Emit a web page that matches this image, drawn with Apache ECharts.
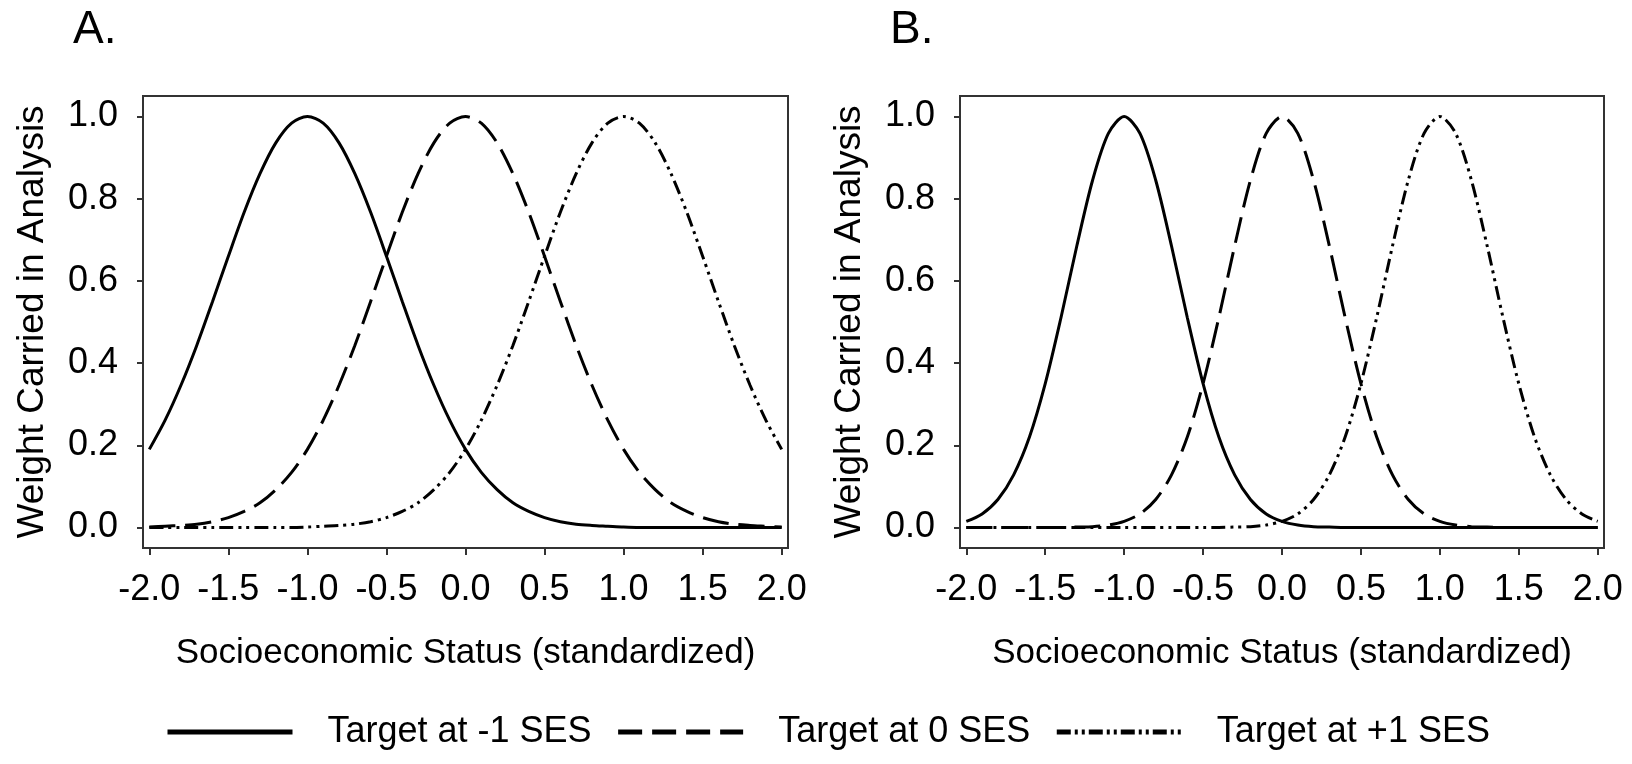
<!DOCTYPE html>
<html>
<head>
<meta charset="utf-8">
<title>Weight carried in analysis</title>
<script src="https://cdn.jsdelivr.net/npm/echarts@6/dist/echarts.min.js"></script>
<style>
    html, body { margin: 0; padding: 0; background: #fff; }
    #chart { width: 1632px; height: 764px; }
</style>
</head>
<body>
<div id="chart"></div>
<script>
    // socioeconomic status (x), read every 0.1
    var ses = [-2.0, -1.9, -1.8, -1.7, -1.6, -1.5, -1.4, -1.3, -1.2, -1.1,
        -1.0, -0.9, -0.8, -0.7, -0.6, -0.5, -0.4, -0.3, -0.2, -0.1,
        0.0, 0.1, 0.2, 0.3, 0.4, 0.5, 0.6, 0.7, 0.8, 0.9,
        1.0, 1.1, 1.2, 1.3, 1.4, 1.5, 1.6, 1.7, 1.8, 1.9, 2.0];

    var sesTicks = [-2.0, -1.5, -1.0, -0.5, 0.0, 0.5, 1.0, 1.5, 2.0];
    var weightTicks = [0.0, 0.2, 0.4, 0.6, 0.8, 1.0];

    var seriesNames = ['Target at -1 SES', 'Target at 0 SES', 'Target at +1 SES'];

    // panel A (wide bandwidth)
    var weightA_minus1 = [0.190, 0.261, 0.346, 0.443, 0.550, 0.660, 0.767, 0.861, 0.936, 0.984,
        1.000, 0.984, 0.936, 0.861, 0.767, 0.660, 0.550, 0.443, 0.346, 0.261,
        0.190, 0.134, 0.092, 0.060, 0.039, 0.024, 0.014, 0.008, 0.005, 0.003,
        0.001, 0, 0, 0, 0, 0, 0, 0, 0, 0, 0];
    var weightA_zero = [0.001, 0.003, 0.005, 0.008, 0.014, 0.024, 0.039, 0.060, 0.092, 0.134,
        0.190, 0.261, 0.346, 0.443, 0.550, 0.660, 0.767, 0.861, 0.936, 0.984,
        1.000, 0.984, 0.936, 0.861, 0.767, 0.660, 0.550, 0.443, 0.346, 0.261,
        0.190, 0.134, 0.092, 0.060, 0.039, 0.024, 0.014, 0.008, 0.005, 0.003, 0.001];
    var weightA_plus1 = [0, 0, 0, 0, 0, 0, 0, 0, 0, 0,
        0.001, 0.003, 0.005, 0.008, 0.014, 0.024, 0.039, 0.060, 0.092, 0.134,
        0.190, 0.261, 0.346, 0.443, 0.550, 0.660, 0.767, 0.861, 0.936, 0.984,
        1.000, 0.984, 0.936, 0.861, 0.767, 0.660, 0.550, 0.443, 0.346, 0.261, 0.190];

    // panel B (narrow bandwidth)
    var weightB_minus1 = [0.015, 0.033, 0.068, 0.128, 0.220, 0.350, 0.511, 0.685, 0.845, 0.959,
        1.000, 0.959, 0.845, 0.685, 0.511, 0.350, 0.220, 0.128, 0.068, 0.033,
        0.015, 0.006, 0.002, 0.001, 0, 0, 0, 0, 0, 0,
        0, 0, 0, 0, 0, 0, 0, 0, 0, 0, 0];
    var weightB_zero = [0, 0, 0, 0, 0, 0, 0, 0.001, 0.002, 0.006,
        0.015, 0.033, 0.068, 0.128, 0.220, 0.350, 0.511, 0.685, 0.845, 0.959,
        1.000, 0.959, 0.845, 0.685, 0.511, 0.350, 0.220, 0.128, 0.068, 0.033,
        0.015, 0.006, 0.002, 0.001, 0, 0, 0, 0, 0, 0, 0];
    var weightB_plus1 = [0, 0, 0, 0, 0, 0, 0, 0, 0, 0,
        0, 0, 0, 0, 0, 0, 0, 0.001, 0.002, 0.006,
        0.015, 0.033, 0.068, 0.128, 0.220, 0.350, 0.511, 0.685, 0.845, 0.959,
        1.000, 0.959, 0.845, 0.685, 0.511, 0.350, 0.220, 0.128, 0.068, 0.033, 0.015];

    var font = "'Liberation Sans', Arial, sans-serif";

    var lineTypes = [
        { type: 'solid', width: 3 },
        { type: [26, 10], width: 3 },
        { type: [14, 5, 3, 5, 3, 5], width: 3 }
    ];
    var legendLineTypes = [
        { type: 'solid', width: 5 },
        { type: [24, 10], width: 5 },
        { type: [14, 4, 3, 4, 3, 4], width: 5 }
    ];

    function pairs(ys) {
        return ses.map(function (x, i) { return [x, ys[i]]; });
    }

    function makeXAxis(gridIndex) {
        return {
            type: 'value',
            gridIndex: gridIndex,
            min: -2.04,
            max: 2.04,
            name: 'Socioeconomic Status (standardized)',
            nameLocation: 'middle',
            nameGap: 88,
            nameTextStyle: { fontFamily: font, fontSize: 35, color: '#000' },
            axisLine: { show: true, onZero: false, lineStyle: { color: '#333', width: 2 } },
            axisTick: { show: true, length: 7, customValues: sesTicks, lineStyle: { color: '#333', width: 2 } },
            axisLabel: {
                customValues: sesTicks,
                margin: 24,
                fontFamily: font,
                fontSize: 36,
                color: '#000',
                formatter: function (v) { return v.toFixed(1); }
            },
            splitLine: { show: false }
        };
    }

    function makeYAxis(gridIndex) {
        return {
            type: 'value',
            gridIndex: gridIndex,
            min: -0.05,
            max: 1.05,
            name: 'Weight Carried in Analysis',
            nameLocation: 'middle',
            nameGap: 92,
            nameTextStyle: { fontFamily: font, fontSize: 37, color: '#000' },
            axisLine: { show: true, onZero: false, lineStyle: { color: '#333', width: 2 } },
            axisTick: { show: true, length: 6, customValues: weightTicks, lineStyle: { color: '#333', width: 2 } },
            axisLabel: {
                customValues: weightTicks,
                margin: 25,
                fontFamily: font,
                fontSize: 36,
                color: '#000',
                formatter: function (v) { return v.toFixed(1); }
            },
            splitLine: { show: false }
        };
    }

    function makeSeries(name, ys, idx, style) {
        return {
            name: name,
            type: 'line',
            xAxisIndex: idx,
            yAxisIndex: idx,
            smooth: 0.3,
            symbol: 'none',
            itemStyle: { color: '#000' },
            lineStyle: { color: '#000', width: style.width, type: style.type, cap: 'butt' },
            data: pairs(ys)
        };
    }

    var chart = echarts.init(document.getElementById('chart'));

    var option = {
        animation: false,
        backgroundColor: '#fff',
        title: [
            { text: 'A.', left: 68, top: 2, textStyle: { fontFamily: font, fontSize: 46, fontWeight: 'normal', color: '#000' } },
            { text: 'B.', left: 885, top: 2, textStyle: { fontFamily: font, fontSize: 46, fontWeight: 'normal', color: '#000' } }
        ],
        grid: [
            { left: 143, top: 96, width: 645, height: 452, show: true, borderColor: '#333', borderWidth: 2, outerBoundsMode: 'none' },
            { left: 960, top: 96, width: 644, height: 452, show: true, borderColor: '#333', borderWidth: 2, outerBoundsMode: 'none' }
        ],
        legend: {
            left: 160,
            top: 709,
            itemWidth: 125,
            itemHeight: 20,
            itemGap: 24,
            selectedMode: false,
            textStyle: { fontFamily: font, fontSize: 36, color: '#000', padding: [0, 0, 0, 30] },
            data: seriesNames.map(function (n, i) {
                return {
                    name: n,
                    itemStyle: { opacity: 0, borderWidth: 0 },
                    lineStyle: { color: '#000', width: legendLineTypes[i].width, type: legendLineTypes[i].type }
                };
            })
        },
        xAxis: [makeXAxis(0), makeXAxis(1)],
        yAxis: [makeYAxis(0), makeYAxis(1)],
        series: [
            makeSeries(seriesNames[0], weightA_minus1, 0, lineTypes[0]),
            makeSeries(seriesNames[1], weightA_zero, 0, lineTypes[1]),
            makeSeries(seriesNames[2], weightA_plus1, 0, lineTypes[2]),
            makeSeries(seriesNames[0], weightB_minus1, 1, lineTypes[0]),
            makeSeries(seriesNames[1], weightB_zero, 1, lineTypes[1]),
            makeSeries(seriesNames[2], weightB_plus1, 1, lineTypes[2])
        ]
    };

    chart.setOption(option, true);
</script>
</body>
</html>
